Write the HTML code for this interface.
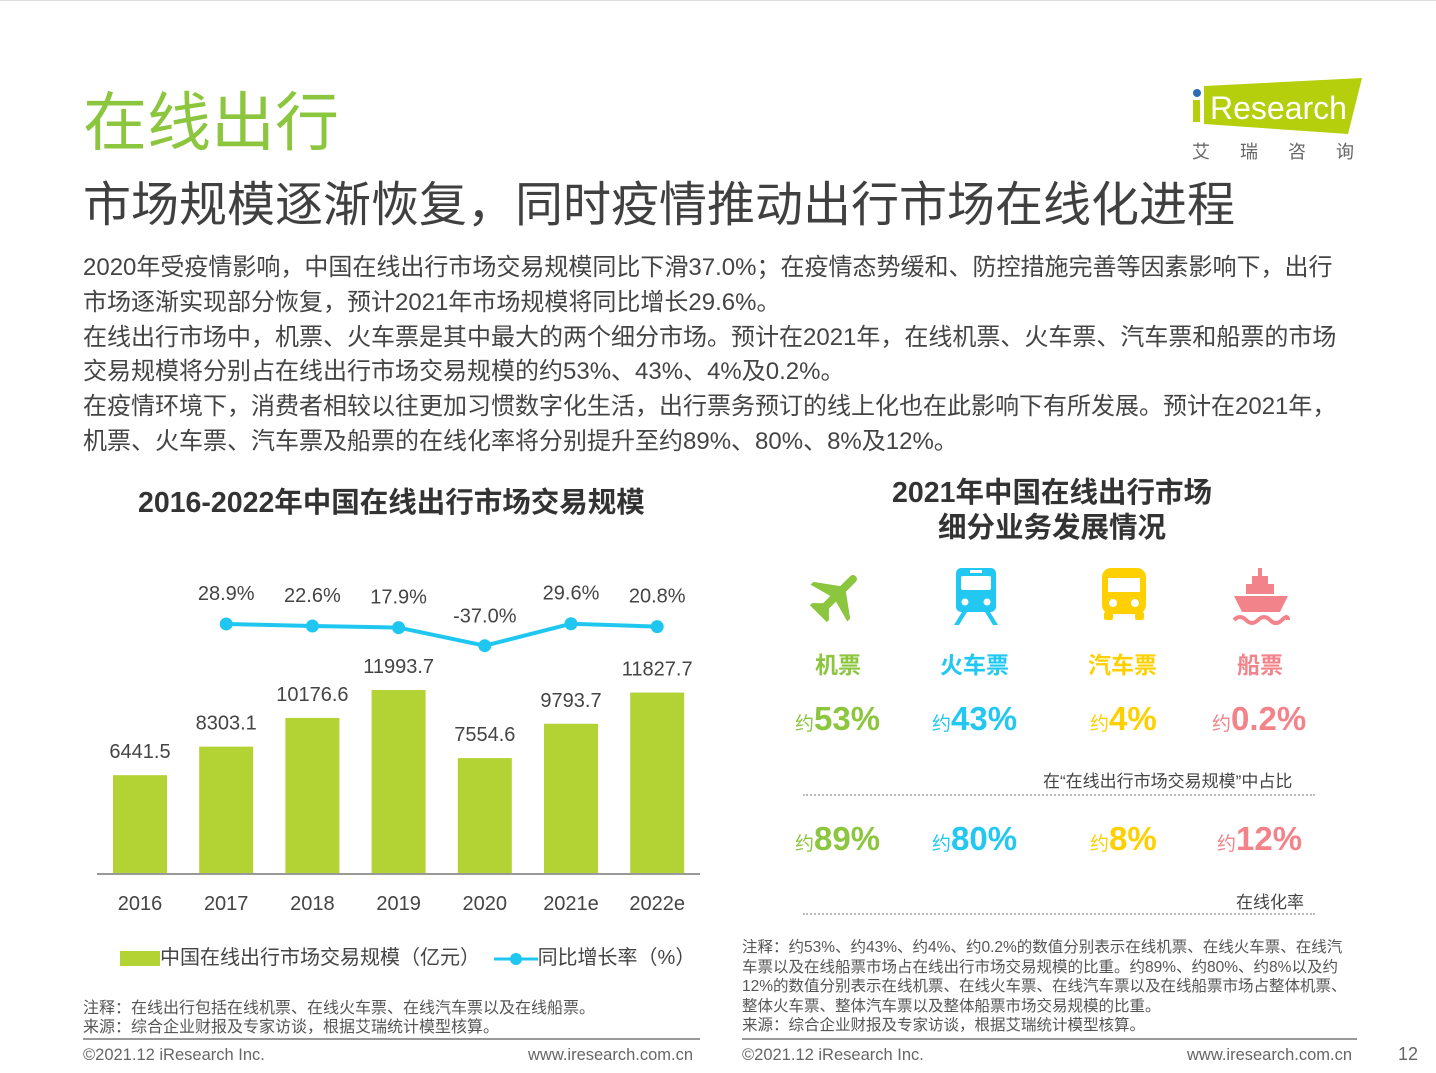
<!DOCTYPE html>
<html><head><meta charset="utf-8">
<style>
body{margin:0;width:1436px;height:1073px;background:#fff;font-family:"Liberation Sans","Noto Sans CJK SC",sans-serif;position:relative;overflow:hidden;color:#444}
.a{position:absolute;white-space:nowrap}
.pct{font-weight:bold;font-size:33px}
.pct small{font-size:19px;font-weight:normal}
.lab{font-weight:bold;font-size:23px}
</style></head><body>
<div class="a" style="left:0;top:0;width:1436px;height:1px;background:#ddd"></div>
<div class="a" style="left:83px;top:72px;font-size:64px;color:#8cc63f;">在线出行</div>
<div class="a" style="left:83px;top:165px;font-size:48px;color:#404040;">市场规模逐渐恢复，同时疫情推动出行市场在线化进程</div>
<div class="a" style="left:1188px;top:76px;width:180px;height:90px">
<svg width="180" height="90"><polygon points="16,10 174,2 160,58 16,48" fill="#b5cf0d"/><circle cx="9" cy="17" r="4" fill="#2b6cb5"/><rect x="5" y="24" width="7" height="22" fill="#b5cf0d"/>
<text x="22" y="43" font-size="32" fill="#fff" font-family="Liberation Sans">Research</text>
<text x="4" y="82" font-size="18" fill="#666" letter-spacing="30">艾瑞咨询</text></svg></div>
<div class="a" style="left:83px;top:251px;font-size:24px;line-height:34.8px;color:#444">2020年受疫情影响，中国在线出行市场交易规模同比下滑37.0%；在疫情态势缓和、防控措施完善等因素影响下，出行<br>市场逐渐实现部分恢复，预计2021年市场规模将同比增长29.6%。<br>在线出行市场中，机票、火车票是其中最大的两个细分市场。预计在2021年，在线机票、火车票、汽车票和船票的市场<br>交易规模将分别占在线出行市场交易规模的约53%、43%、4%及0.2%。<br>在疫情环境下，消费者相较以往更加习惯数字化生活，出行票务预订的线上化也在此影响下有所发展。预计在2021年，<br>机票、火车票、汽车票及船票的在线化率将分别提升至约89%、80%、8%及12%。</div>
<div class="a" style="left:138px;top:480px;font-size:28.5px;font-weight:bold;color:#333">2016-2022年中国在线出行市场交易规模</div>
<div class="a" style="left:850px;top:476px;width:404px;text-align:center;font-size:28.5px;font-weight:bold;color:#333;line-height:35px">2021年中国在线出行市场<br>细分业务发展情况</div>

<svg class="a" style="left:0;top:0" width="720" height="940" id="chart"></svg>

<div class="a" style="left:120px;top:941px;font-size:20px;color:#444">
<span style="display:inline-block;width:40px;height:15px;background:#b3d234;vertical-align:middle"></span>中国在线出行市场交易规模（亿元）
<svg width="44" height="16" style="vertical-align:middle;margin-left:8px"><line x1="0" y1="8" x2="44" y2="8" stroke="#1fc6f0" stroke-width="3"/><circle cx="22" cy="8" r="6" fill="#1fc6f0"/></svg>同比增长率（%）</div>
<div class="a" style="left:83px;top:999px;font-size:16px;line-height:19px;color:#555">注释：在线出行包括在线机票、在线火车票、在线汽车票以及在线船票。<br>来源：综合企业财报及专家访谈，根据艾瑞统计模型核算。</div>
<div class="a" style="left:83px;top:1038px;width:617px;height:2px;background:#999"></div>
<div class="a" style="left:83px;top:1046px;font-size:16.5px;color:#666">©2021.12 iResearch Inc.</div>
<div class="a" style="left:528px;top:1046px;font-size:16.5px;color:#666">www.iresearch.com.cn</div>

<div class="a" style="left:808px;top:568px"><svg width="56" height="56" viewBox="0 0 56 56"><g transform="rotate(45 28 28)" fill="#8cc63f"><rect x="24" y="0" width="8" height="50" rx="4"/><polygon points="24,18 32,18 54,34 54,38 32,32 24,32 2,38 2,34"/><polygon points="24,42 32,42 40,50 40,53 16,53 16,50"/></g></svg></div>
<div class="a" style="left:952px;top:568px"><svg width="48" height="58"><rect x="4" y="0" width="40" height="44" rx="5" fill="#22c8f2"/><rect x="9" y="8" width="30" height="14" rx="2" fill="#fff"/><rect x="18" y="2" width="12" height="3" fill="#fff"/><circle cx="13" cy="34" r="3.5" fill="#fff"/><circle cx="35" cy="34" r="3.5" fill="#fff"/><polygon points="10,44 15,44 7,57 2,57" fill="#22c8f2"/><polygon points="33,44 38,44 46,57 41,57" fill="#22c8f2"/></svg></div>
<div class="a" style="left:1101px;top:568px"><svg width="46" height="54"><rect x="1" y="0" width="44" height="46" rx="9" fill="#ffd000"/><rect x="7" y="10" width="32" height="14" fill="#fff"/><circle cx="12" cy="35" r="4" fill="#fff"/><circle cx="34" cy="35" r="4" fill="#fff"/><rect x="3" y="44" width="9" height="8" rx="2" fill="#ffd000"/><rect x="34" y="44" width="9" height="8" rx="2" fill="#ffd000"/></svg></div>
<div class="a" style="left:1232px;top:568px"><svg width="58" height="58"><rect x="26" y="0" width="4" height="8" fill="#f3838a"/><rect x="20" y="8" width="16" height="8" fill="#f3838a"/><rect x="14" y="16" width="28" height="10" fill="#f3838a"/><polygon points="2,28 56,28 48,44 10,44" fill="#f3838a"/><path d="M2 52 q6 -6 12 0 t12 0 t12 0 t12 0 t6 0" stroke="#f3838a" stroke-width="4" fill="none"/></svg></div>

<div class="a lab" style="left:815px;top:646px;color:#8cc63f">机票</div>
<div class="a lab" style="left:940px;top:646px;color:#22c8f2">火车票</div>
<div class="a lab" style="left:1088px;top:646px;color:#ffd000">汽车票</div>
<div class="a lab" style="left:1237px;top:646px;color:#f3838a">船票</div>

<div class="a pct" style="left:795px;top:700px;color:#8cc63f"><small>约</small>53%</div>
<div class="a pct" style="left:932px;top:700px;color:#22c8f2"><small>约</small>43%</div>
<div class="a pct" style="left:1090px;top:700px;color:#ffd000"><small>约</small>4%</div>
<div class="a pct" style="left:1212px;top:700px;color:#f3838a"><small>约</small>0.2%</div>
<div class="a" style="left:1043px;top:767px;font-size:17px;color:#444">在“在线出行市场交易规模”中占比</div>
<div class="a" style="left:803px;top:794px;width:512px;border-top:2px dotted #bbb"></div>
<div class="a pct" style="left:795px;top:820px;color:#8cc63f"><small>约</small>89%</div>
<div class="a pct" style="left:932px;top:820px;color:#22c8f2"><small>约</small>80%</div>
<div class="a pct" style="left:1090px;top:820px;color:#ffd000"><small>约</small>8%</div>
<div class="a pct" style="left:1217px;top:820px;color:#f3838a"><small>约</small>12%</div>
<div class="a" style="left:1236px;top:888px;font-size:17px;color:#444">在线化率</div>
<div class="a" style="left:803px;top:913px;width:512px;border-top:2px dotted #bbb"></div>
<div class="a" style="left:742px;top:938px;font-size:15.5px;line-height:19.5px;color:#555;white-space:normal;width:615px">注释：约53%、约43%、约4%、约0.2%的数值分别表示在线机票、在线火车票、在线汽车票以及在线船票市场占在线出行市场交易规模的比重。约89%、约80%、约8%以及约12%的数值分别表示在线机票、在线火车票、在线汽车票以及在线船票市场占整体机票、整体火车票、整体汽车票以及整体船票市场交易规模的比重。<br>来源：综合企业财报及专家访谈，根据艾瑞统计模型核算。</div>
<div class="a" style="left:742px;top:1038px;width:615px;height:2px;background:#999"></div>
<div class="a" style="left:742px;top:1046px;font-size:16.5px;color:#666">©2021.12 iResearch Inc.</div>
<div class="a" style="left:1187px;top:1046px;font-size:16.5px;color:#666">www.iresearch.com.cn</div>
<div class="a" style="left:1398px;top:1044px;font-size:18px;color:#666">12</div>

<script>
const years=["2016","2017","2018","2019","2020","2021e","2022e"];
const sizes=[6441.5,8303.1,10176.6,11993.7,7554.6,9793.7,11827.7];
const growth=[28.9,22.6,17.9,-37.0,29.6,20.8];
const growthLabels=["28.9%","22.6%","17.9%","-37.0%","29.6%","20.8%"];
const NS="http://www.w3.org/2000/svg";
const svg=document.getElementById('chart');
const x=i=>140+i*86.2;
const yb=v=>874-v*0.01534;
const yl=v=>633.5-v*0.33;
function mk(t,a){const e=document.createElementNS(NS,t);for(const k in a)e.setAttribute(k,a[k]);svg.appendChild(e);return e;}
sizes.forEach((v,i)=>{
  const r=mk('rect',{x:x(i)-27,y:yb(v),width:54,height:874-yb(v),fill:'#b3d234'});
  
  
  const t=mk('text',{x:x(i),y:yb(v)-17,'text-anchor':'middle','font-size':20,fill:'#444'});
  t.textContent=v.toFixed(1);
  
  
  const yt=mk('text',{x:x(i),y:910,'text-anchor':'middle','font-size':20,fill:'#444'});
  yt.textContent=years[i];
  
  
});
const ax=mk('line',{x1:97,x2:700,y1:874,y2:874,stroke:'#999','stroke-width':2});


const pts=growth.map((g,i)=>x(i+1)+','+yl(g)).join(' ');
const pl=mk('polyline',{points:pts,fill:'none',stroke:'#1fc6f0','stroke-width':4});


growth.forEach((g,i)=>{
  const c=mk('circle',{cx:x(i+1),cy:yl(g),r:6.5,fill:'#1fc6f0'});
  
  
  const t=mk('text',{x:x(i+1),y:g<0?yl(g)-23:yl(g)-24,'text-anchor':'middle','font-size':20,fill:'#444'});
  t.textContent=growthLabels[i];
  
  
});
</script>
</body></html>
